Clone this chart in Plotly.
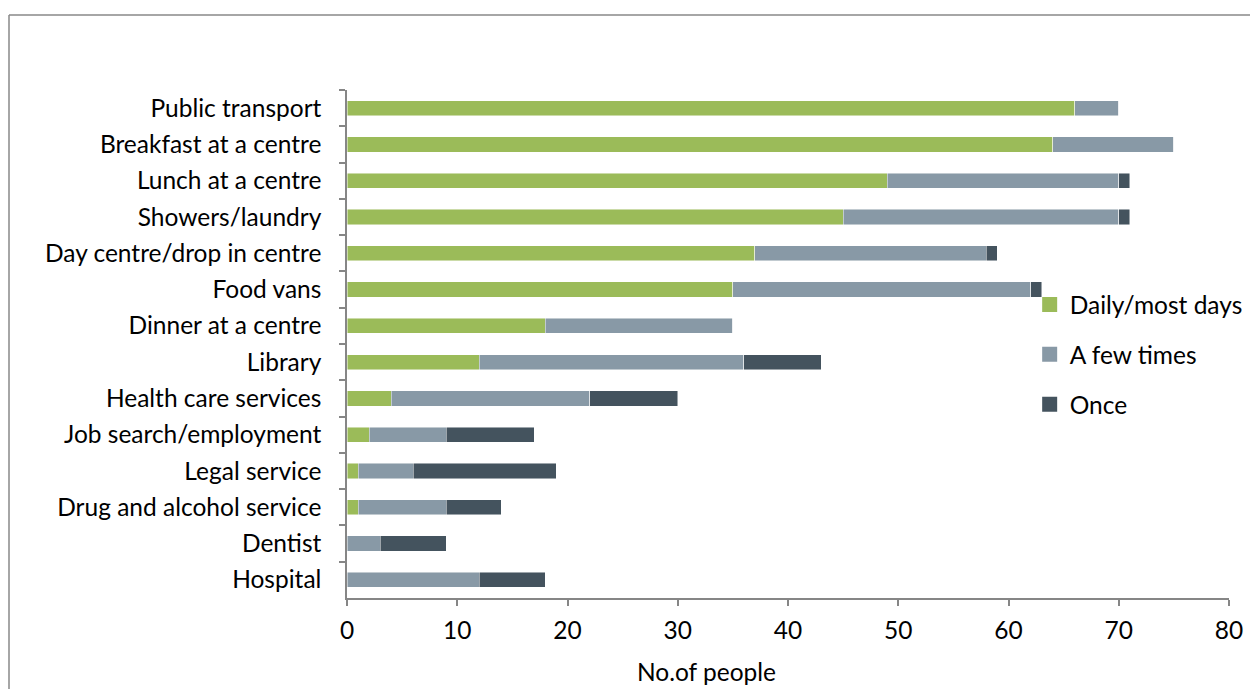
import plotly.graph_objects as go

categories = ["Public transport", "Breakfast at a centre", "Lunch at a centre", "Showers/laundry",
              "Day centre/drop in centre", "Food vans", "Dinner at a centre", "Library",
              "Health care services", "Job search/employment", "Legal service",
              "Drug and alcohol service", "Dentist", "Hospital"]
daily = [66, 64, 49, 45, 37, 35, 18, 12, 4, 2, 1, 1, 0, 0]
few_times = [4, 11, 21, 25, 21, 27, 17, 24, 18, 7, 5, 8, 3, 12]
once = [0, 0, 1, 1, 1, 1, 0, 7, 8, 8, 13, 5, 6, 6]
series_names = ["Daily/most days", "A few times", "Once"]
colors = ["#9BBB59", "#8899A6", "#44535E"]
x_ticks = [0, 10, 20, 30, 40, 50, 60, 70, 80]
x_title = "No.of people"

FONT = "Lato"
FS = 24.5
# page body has an 8px margin; figure fills the rest of the window (overflow hidden)
W, H = 1250, 681
L, T = 339, 82
PW, PH = 882, 508
fig = go.Figure()
for i, (name, vals) in enumerate(zip(series_names, [daily, few_times, once])):
    fig.add_trace(go.Bar(
        y=categories, x=vals, name=name, orientation="h",
        marker=dict(color=colors[i], line=dict(color="rgba(255,255,255,0.6)", width=0.8)),
        width=0.42, showlegend=False,
    ))
# legend entries with larger square swatches
for i, name in enumerate(series_names):
    fig.add_trace(go.Scatter(
        x=[None], y=[None], mode="markers", name=name,
        marker=dict(symbol="square", size=15, color=colors[i]),
        legendgroup=f"g{i}", showlegend=True, hoverinfo="skip",
    ))

fig.update_layout(
    barmode="stack",
    width=W, height=H,
    margin=dict(l=L, r=W - L - PW, t=T, b=H - T - PH, pad=0, autoexpand=False),
    paper_bgcolor="white", plot_bgcolor="white",
    font=dict(family=FONT, size=FS, color="#000000"),
    legend=dict(x=0.774, y=0.622, xanchor="left", yanchor="top",
                font=dict(family=FONT, size=FS, color="#000000"),
                tracegroupgap=15, itemwidth=30, itemsizing="trace",
                bgcolor="rgba(0,0,0,0)"),
    xaxis=dict(range=[0, 80], tickvals=x_ticks, showgrid=False, zeroline=False,
               showline=True, linecolor="#868686", linewidth=1.5,
               ticks="outside", ticklen=6, tickcolor="#868686", tickwidth=1.5,
               tickfont=dict(family=FONT, size=FS), ticklabelstandoff=4),
    yaxis=dict(categoryorder="array", categoryarray=categories, autorange="reversed",
               showgrid=False, showline=True, linecolor="#868686", linewidth=1.5,
               ticks="outside", ticklen=6, tickcolor="#868686", tickwidth=1.5,
               tickson="boundaries", tickfont=dict(family=FONT, size=FS), ticklabelstandoff=19),
)

# axis title (offset left of centre, as in the original)
fig.add_annotation(text=x_title, xref="paper", yref="paper",
                   x=(706 - 347) / PW, y=-(671 - 598) / PH,
                   xanchor="center", yanchor="middle", showarrow=False,
                   font=dict(family=FONT, size=FS, color="#000000"))

# outer chart border (left & top visible)
bx = (1 - L) / PW
by = (PH + T - 7) / PH
fig.add_shape(type="line", xref="paper", yref="paper",
              x0=bx, x1=bx, y0=by, y1=-0.5,
              line=dict(color="#898989", width=1.5))
fig.add_shape(type="line", xref="paper", yref="paper",
              x0=bx, x1=1.2, y0=by, y1=by,
              line=dict(color="#898989", width=1.5))

fig.write_html("out.html",
               post_script="document.body.style.overflow='hidden';"
                           "document.documentElement.style.overflow='hidden';")
